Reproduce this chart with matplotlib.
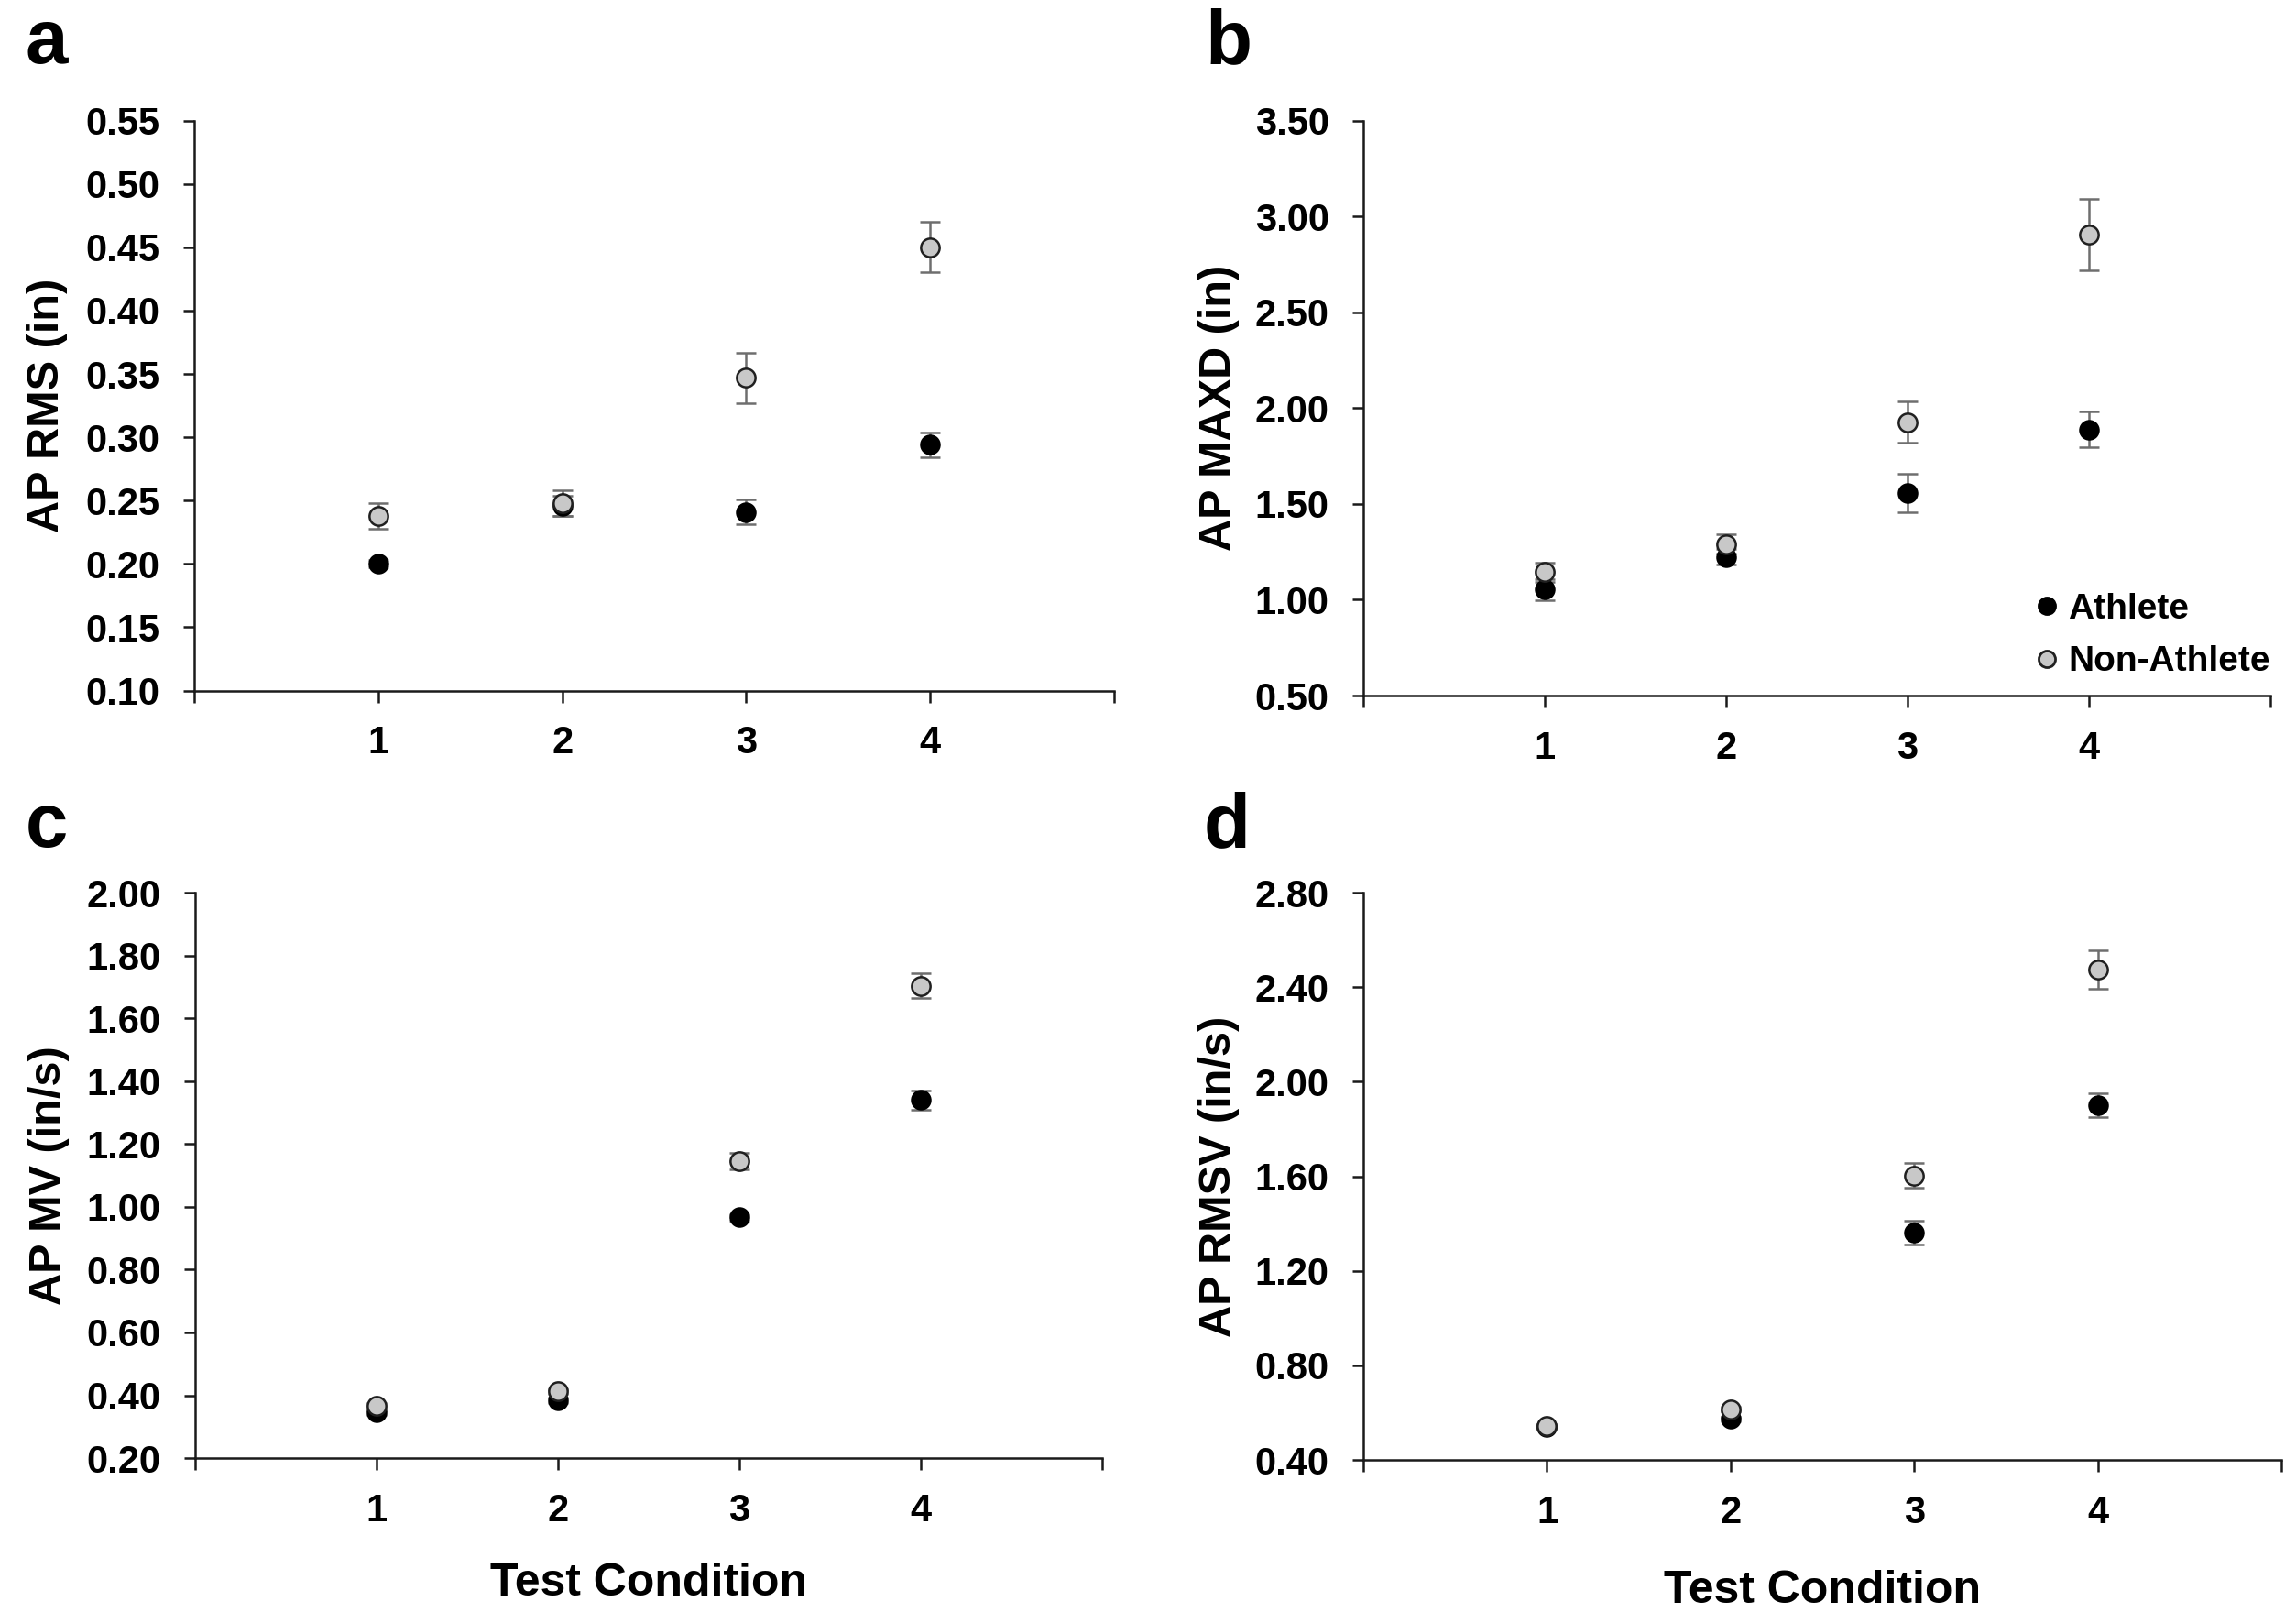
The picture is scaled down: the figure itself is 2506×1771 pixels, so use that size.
import matplotlib
matplotlib.use('Agg')
import matplotlib.pyplot as plt
from matplotlib.lines import Line2D

# Test conditions
conditions = [1, 2, 3, 4]

# a: AP RMS (in)
rms_athlete = [0.200, 0.246, 0.241, 0.294]
rms_athlete_err = [0.003, 0.008, 0.010, 0.010]
rms_non = [0.238, 0.248, 0.347, 0.450]
rms_non_err = [0.010, 0.010, 0.020, 0.020]

# b: AP MAXD (in)
maxd_athlete = [1.053, 1.223, 1.557, 1.889]
maxd_athlete_err = [0.054, 0.040, 0.101, 0.092]
maxd_non = [1.145, 1.290, 1.927, 2.906]
maxd_non_err = [0.050, 0.050, 0.109, 0.188]

# c: AP MV (in/s)
mv_athlete = [0.345, 0.384, 0.967, 1.340]
mv_athlete_err = [0.008, 0.008, 0.010, 0.030]
mv_non = [0.366, 0.412, 1.145, 1.704]
mv_non_err = [0.008, 0.008, 0.027, 0.040]

# d: AP RMSV (in/s)
rmsv_athlete = [0.540, 0.573, 1.363, 1.900]
rmsv_athlete_err = [0.010, 0.010, 0.050, 0.050]
rmsv_non = [0.542, 0.615, 1.604, 2.476]
rmsv_non_err = [0.010, 0.010, 0.051, 0.081]

FONT = ['Liberation Sans', 'Arial', 'DejaVu Sans']

NON_COLOR = '#c8c8c8'
ERR_COLOR = '#6e6e6e'


def draw_panel(fig, rect, letter, letter_pos, ath, ath_err, non, non_err,
               ylim, yticks, ylabel, ylabel_x, xlabel=None, xlabel_y=None):
    """Draws one panel with two groups and error bars."""
    ax = fig.add_axes(rect)

    err_kw = dict(fmt='none', ecolor=ERR_COLOR, elinewidth=0.9,
                  capsize=3.8, capthick=0.9)
    ax.errorbar(conditions, ath, yerr=ath_err, zorder=2, **err_kw)
    ax.errorbar(conditions, non, yerr=non_err, zorder=3, **err_kw)
    ax.plot(conditions, ath, 'o', color='black', markersize=7.3,
            markeredgecolor='black', markeredgewidth=0.8, zorder=4)
    ax.plot(conditions, non, 'o', color=NON_COLOR, markersize=7.3,
            markeredgecolor='#202020', markeredgewidth=0.9, zorder=5)

    ax.set_xlim(0, 5)
    ax.set_ylim(*ylim)
    ax.set_xticks([0, 1, 2, 3, 4, 5])
    ax.set_xticklabels(['', '1', '2', '3', '4', ''])
    ax.set_yticks(yticks)
    ax.set_yticklabels(['%.2f' % v for v in yticks])

    for side in ['top', 'right']:
        ax.spines[side].set_visible(False)
    for side in ['left', 'bottom']:
        ax.spines[side].set_linewidth(0.9)
        ax.spines[side].set_color('#1a1a1a')

    ax.tick_params(direction='out', length=4.5, width=0.9, color='#1a1a1a',
                   pad=9, labelsize=15)
    for lab in ax.get_xticklabels() + ax.get_yticklabels():
        lab.set_family(FONT)
        lab.set_fontweight('bold')

    fig.text(ylabel_x, rect[1] + rect[3] / 2, ylabel, rotation=90,
             ha='center', va='center', fontsize=17.5, fontweight='bold',
             family=FONT)
    if xlabel:
        fig.text(rect[0] + rect[2] / 2, xlabel_y, xlabel, ha='center',
                 va='center', fontsize=18, fontweight='bold', family=FONT)
    fig.text(letter_pos[0], letter_pos[1], letter, ha='left', va='baseline',
             fontsize=30, fontweight='bold', family=FONT)
    return ax


def main():
    fig = plt.figure(figsize=(12.53, 8.855), dpi=200)

    draw_panel(fig, [0.0846, 0.5745, 0.4006, 0.3512], 'a', (0.011, 0.961),
               rms_athlete, rms_athlete_err, rms_non, rms_non_err,
               (0.10, 0.55), [0.10, 0.15, 0.20, 0.25, 0.30, 0.35, 0.40, 0.45, 0.50, 0.55],
               'AP RMS (in)', 0.0205)

    ax_b = draw_panel(fig, [0.5938, 0.5714, 0.3950, 0.3543], 'b', (0.525, 0.961),
                      maxd_athlete, maxd_athlete_err, maxd_non, maxd_non_err,
                      (0.50, 3.50), [0.50, 1.00, 1.50, 2.00, 2.50, 3.00, 3.50],
                      'AP MAXD (in)', 0.531)

    draw_panel(fig, [0.0850, 0.1016, 0.3950, 0.3484], 'c', (0.011, 0.478),
               mv_athlete, mv_athlete_err, mv_non, mv_non_err,
               (0.20, 2.00), [0.20, 0.40, 0.60, 0.80, 1.00, 1.20, 1.40, 1.60, 1.80, 2.00],
               'AP MV (in/s)', 0.0212, 'Test Condition', 0.024)

    draw_panel(fig, [0.5938, 0.1005, 0.3998, 0.3495], 'd', (0.524, 0.478),
               rmsv_athlete, rmsv_athlete_err, rmsv_non, rmsv_non_err,
               (0.40, 2.80), [0.40, 0.80, 1.20, 1.60, 2.00, 2.40, 2.80],
               'AP RMSV (in/s)', 0.531, 'Test Condition', 0.020)

    # Legend in panel b
    handles = [
        Line2D([], [], linestyle='none', marker='o', color='black',
               markersize=6.5, markeredgecolor='black'),
        Line2D([], [], linestyle='none', marker='o', color=NON_COLOR,
               markersize=6.5, markeredgecolor='#202020'),
    ]
    ax_b.legend(handles, ['Athlete', 'Non-Athlete'], loc='lower right',
                bbox_to_anchor=(1.0, 0.03), frameon=False, borderaxespad=0,
                borderpad=0, handlelength=0.6, handletextpad=0.3,
                labelspacing=0.55, prop={'family': FONT,
                                          'weight': 'bold', 'size': 14})

    fig.savefig('out.png', dpi=200, facecolor='white')


if __name__ == "__main__":
    main()
